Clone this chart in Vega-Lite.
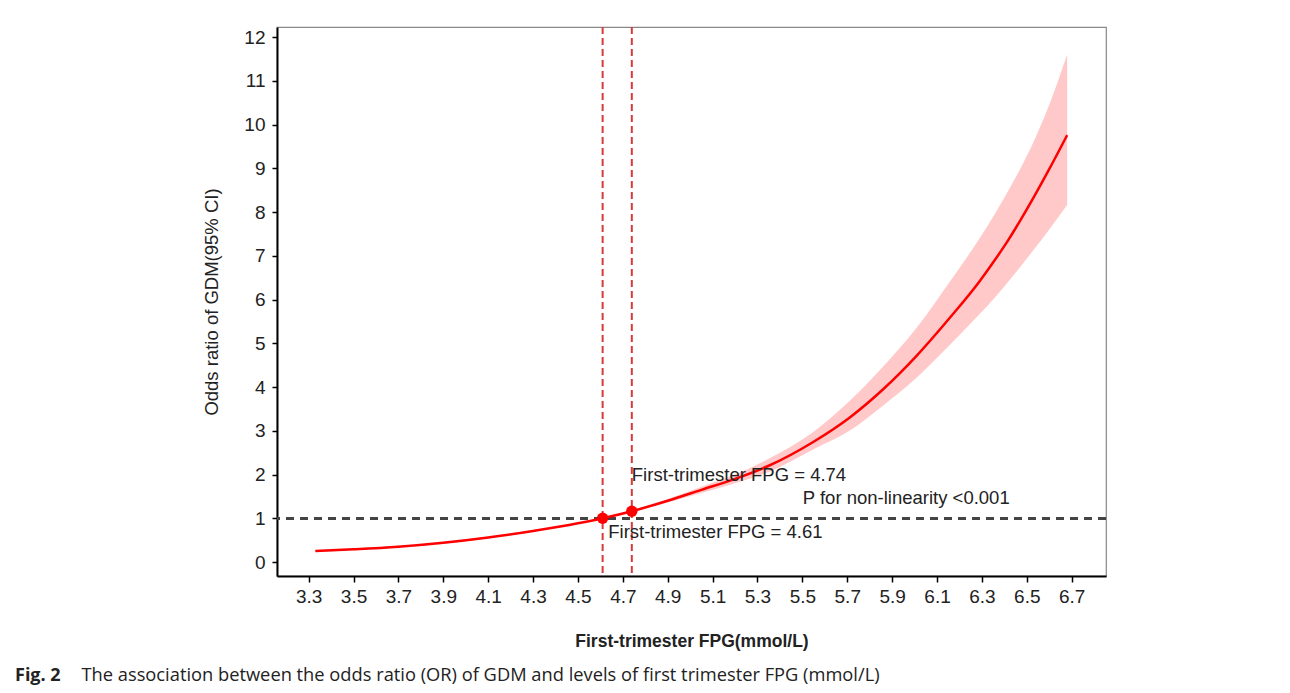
{
  "$schema": "https://vega.github.io/schema/vega-lite/v6.json",
  "autosize": "none",
  "width": 829,
  "height": 549,
  "padding": {"left": 277, "top": 27, "right": 184, "bottom": 117},
  "background": "white",
  "config": {
    "view": {"stroke": "#888888", "strokeWidth": 1.2},
    "font": "Liberation Sans",
    "axis": {"grid": false}
  },
  "title": {
    "text": "Fig. 2",
    "subtitle": "\u200b\u00a0\u00a0\u00a0\u00a0\u00a0\u00a0\u00a0\u00a0\u00a0\u00a0\u00a0\u00a0\u00a0\u00a0The association between the odds ratio (OR) of GDM and levels of first trimester FPG (mmol/L)",
    "orient": "bottom",
    "anchor": "start",
    "frame": "group",
    "dx": -262,
    "offset": 17,
    "font": "Open Sans",
    "fontSize": 18,
    "fontWeight": "bold",
    "color": "#222222",
    "subtitleFont": "Open Sans",
    "subtitleFontSize": 18.3,
    "subtitleFontWeight": "normal",
    "subtitleColor": "#222222",
    "subtitlePadding": -18
  },
  "data": {
    "values": [
      {"fpg": 3.33, "or": 0.25, "lo": 0.23, "hi": 0.27},
      {"fpg": 3.5, "or": 0.29, "lo": 0.27, "hi": 0.31},
      {"fpg": 3.7, "or": 0.35, "lo": 0.33, "hi": 0.37},
      {"fpg": 3.9, "or": 0.44, "lo": 0.42, "hi": 0.46},
      {"fpg": 4.1, "or": 0.56, "lo": 0.54, "hi": 0.58},
      {"fpg": 4.3, "or": 0.71, "lo": 0.69, "hi": 0.73},
      {"fpg": 4.5, "or": 0.885, "lo": 0.87, "hi": 0.9},
      {"fpg": 4.61, "or": 1.0, "lo": 0.99, "hi": 1.01},
      {"fpg": 4.74, "or": 1.16, "lo": 1.14, "hi": 1.18},
      {"fpg": 4.9, "or": 1.4, "lo": 1.36, "hi": 1.44},
      {"fpg": 5.05, "or": 1.65, "lo": 1.58, "hi": 1.72},
      {"fpg": 5.2, "or": 1.9, "lo": 1.8, "hi": 2.0},
      {"fpg": 5.35, "or": 2.2, "lo": 2.06, "hi": 2.36},
      {"fpg": 5.55, "or": 2.75, "lo": 2.58, "hi": 2.98},
      {"fpg": 5.71, "or": 3.3, "lo": 3.0, "hi": 3.68},
      {"fpg": 5.86, "or": 3.95, "lo": 3.58, "hi": 4.47},
      {"fpg": 6.01, "or": 4.72, "lo": 4.22, "hi": 5.36},
      {"fpg": 6.16, "or": 5.6, "lo": 4.98, "hi": 6.43},
      {"fpg": 6.29, "or": 6.42, "lo": 5.67, "hi": 7.4},
      {"fpg": 6.36, "or": 6.92, "lo": 6.06, "hi": 7.98},
      {"fpg": 6.41, "or": 7.3, "lo": 6.36, "hi": 8.42},
      {"fpg": 6.47, "or": 7.8, "lo": 6.74, "hi": 8.98},
      {"fpg": 6.53, "or": 8.33, "lo": 7.13, "hi": 9.6},
      {"fpg": 6.6, "or": 8.98, "lo": 7.6, "hi": 10.45},
      {"fpg": 6.68, "or": 9.76, "lo": 8.16, "hi": 11.6}
    ]
  },
  "layer": [
    {
      "mark": {"type": "area", "color": "#ffc9c9", "opacity": 1, "interpolate": "monotone"},
      "encoding": {
        "x": {
          "field": "fpg", "type": "quantitative",
          "scale": {"domain": [3.159, 6.853], "nice": false, "zero": false},
          "axis": {
            "values": [3.3, 3.5, 3.7, 3.9, 4.1, 4.3, 4.5, 4.7, 4.9, 5.1, 5.3, 5.5, 5.7, 5.9, 6.1, 6.3, 6.5, 6.7],
            "format": ".1f",
            "title": "First-trimester FPG(mmol/L)",
            "domainColor": "#000000", "domainWidth": 2,
            "tickColor": "#000000", "tickWidth": 1.5, "tickSize": 6,
            "labelFont": "Liberation Sans", "labelFontSize": 19, "labelColor": "#222222", "labelPadding": 5,
            "titleFont": "Liberation Sans", "titleFontSize": 17.5, "titleFontWeight": "bold", "titleColor": "#222222", "titlePadding": 26
          }
        },
        "y": {
          "field": "lo", "type": "quantitative",
          "scale": {"domain": [-0.32, 12.23], "nice": false, "zero": false},
          "axis": {
            "values": [0, 1, 2, 3, 4, 5, 6, 7, 8, 9, 10, 11, 12],
            "title": "Odds ratio of GDM(95% CI)",
            "domainColor": "#000000", "domainWidth": 2,
            "tickColor": "#000000", "tickWidth": 1.5, "tickSize": 5,
            "labelFont": "Liberation Sans", "labelFontSize": 19, "labelColor": "#222222", "labelPadding": 7,
            "titleFont": "Liberation Sans", "titleFontSize": 18.5, "titleFontWeight": "normal", "titleColor": "#222222", "titlePadding": 22
          }
        },
        "y2": {"field": "hi"}
      }
    },
    {
      "mark": {"type": "rule", "color": "#444444", "strokeWidth": 2, "strokeDash": [8, 6]},
      "encoding": {"y": {"datum": 1}}
    },
    {
      "data": {"values": [{"fpg": 4.61}, {"fpg": 4.74}]},
      "mark": {"type": "rule", "color": "#d63a3a", "strokeWidth": 2, "strokeDash": [7, 4]},
      "encoding": {"x": {"field": "fpg", "type": "quantitative"}}
    },
    {
      "mark": {"type": "line", "color": "#ff0000", "strokeWidth": 2.5, "interpolate": "monotone"},
      "encoding": {
        "x": {"field": "fpg", "type": "quantitative"},
        "y": {"field": "or", "type": "quantitative"}
      }
    },
    {
      "data": {"values": [{"fpg": 4.61, "or": 1.0}, {"fpg": 4.74, "or": 1.16}]},
      "mark": {"type": "circle", "color": "#ff0000", "opacity": 1, "size": 130},
      "encoding": {
        "x": {"field": "fpg", "type": "quantitative"},
        "y": {"field": "or", "type": "quantitative"}
      }
    },
    {
      "data": {"values": [
        {"label": "First-trimester FPG = 4.74", "fpg": 4.74, "or": 2.0},
        {"label": "P for non-linearity <0.001", "fpg": 5.502, "or": 1.47},
        {"label": "First-trimester FPG = 4.61", "fpg": 4.635, "or": 0.69}
      ]},
      "mark": {"type": "text", "align": "left", "baseline": "middle", "font": "Liberation Sans", "fontSize": 18.5, "color": "#222222"},
      "encoding": {
        "x": {"field": "fpg", "type": "quantitative"},
        "y": {"field": "or", "type": "quantitative"},
        "text": {"field": "label"}
      }
    }
  ]
}
